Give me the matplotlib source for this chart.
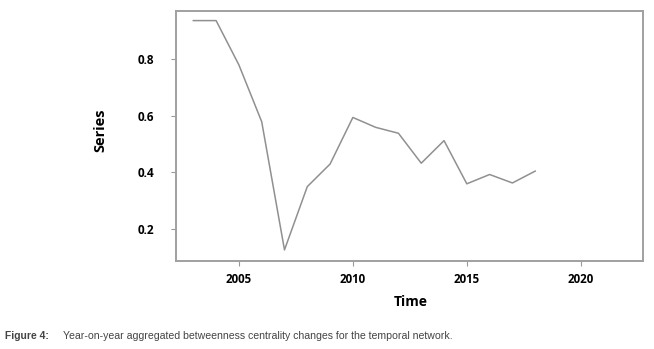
import matplotlib.pyplot as plt

# values
years = [2003, 2004, 2005, 2006, 2007, 2008, 2009, 2010,
         2011, 2012, 2013, 2014, 2015, 2016, 2017, 2018]
series = [0.937, 0.937, 0.78, 0.579, 0.125, 0.349, 0.429, 0.594,
          0.559, 0.538, 0.432, 0.512, 0.359, 0.392, 0.362, 0.404]
xticks = [2005, 2010, 2015, 2020]
yticks = [0.2, 0.4, 0.6, 0.8]

plt.rcParams['font.family'] = ['Open Sans', 'DejaVu Sans']

fig = plt.figure(figsize=(6.54, 3.49), dpi=100)
ax = fig.add_axes([176 / 654, 1 - 260.7 / 349, (643 - 176) / 654, (260.7 - 11) / 349])

ax.plot(years, series, color='#909090', linewidth=1.1)

ax.set_xlim(2002.24, 2022.73)
ax.set_ylim(0.0867, 0.971)
ax.set_xticks(xticks)
ax.set_yticks(yticks)
ax.set_xticklabels([str(t) for t in xticks], fontsize=8.3, fontweight='bold')
ax.set_yticklabels(['%.1f' % t for t in yticks], fontsize=8.5, fontweight='bold')
ax.tick_params(axis='both', direction='out', length=3.5, width=0.8, color='#999999')
ax.tick_params(axis='y', pad=12)
ax.tick_params(axis='x', pad=5)
for s in ax.spines.values():
    s.set_color('#a0a0a0')
    s.set_linewidth(1.4)

fig.text(100 / 654, 1 - 130 / 349, 'Series', rotation=90, ha='center', va='center',
         fontsize=10.5, fontweight='bold')
fig.text(411 / 654, 1 - 302.5 / 349, 'Time', ha='center', va='center',
         fontsize=10, fontweight='bold')

cap = ['Liberation Sans Narrow', 'Liberation Sans', 'DejaVu Sans']
fig.text(5 / 654, 1 - 336 / 349, 'Figure 4:', ha='left', va='center',
         fontsize=7.4, fontweight='bold', color='#444444', family=cap)
fig.text(63 / 654, 1 - 336 / 349,
         'Year-on-year aggregated betweenness centrality changes for the temporal network.',
         ha='left', va='center', fontsize=7.55, color='#444444', family=cap)

fig.savefig('out.png', dpi=100)
